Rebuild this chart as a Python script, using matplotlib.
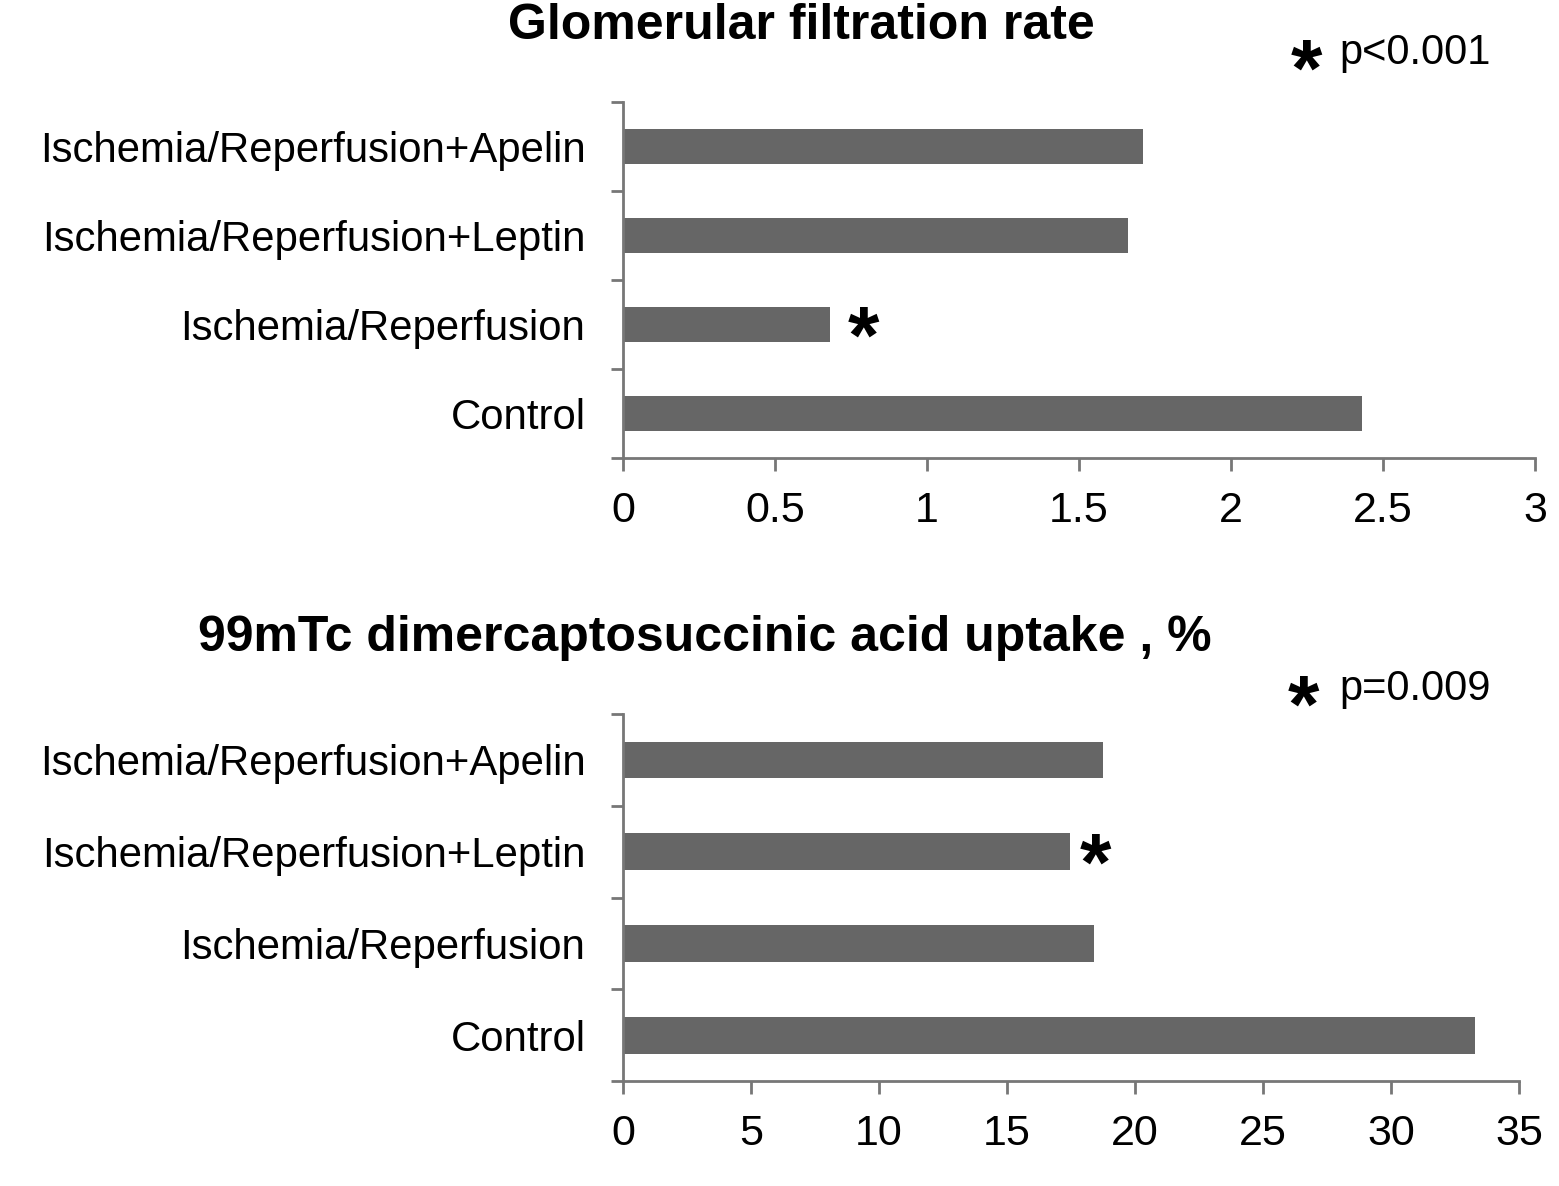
import matplotlib as mpl
mpl.use('Agg')
import matplotlib.pyplot as plt

plt.rcParams['font.family'] = ['Liberation Sans', 'DejaVu Sans']

groups = ['Control', 'Ischemia/Reperfusion', 'Ischemia/Reperfusion+Leptin',
          'Ischemia/Reperfusion+Apelin']
gfr = [2.43, 0.68, 1.66, 1.71]
dmsa = [33.3, 18.4, 17.45, 18.75]

bar_color = '#666666'
spine_color = '#777777'


def setup(ax, values, xmax, step):
    pos = range(len(values))
    ax.barh(pos, values, height=0.4, color=bar_color)
    ax.set_ylim(-0.5, len(values) - 0.5)
    ax.set_xlim(0, xmax)
    ax.set_yticks(list(pos))
    ax.set_yticklabels(groups, fontsize=30.2)
    ax.tick_params(axis='y', which='major', length=0, pad=27)
    ax.set_yticks([i - 0.5 for i in range(len(values) + 1)], minor=True)
    ax.tick_params(axis='y', which='minor', length=9, width=2, color=spine_color)
    ticks = [i * step for i in range(int(round(xmax / step)) + 1)]
    ax.set_xticks(ticks)
    ax.set_xticklabels(['%g' % t for t in ticks], fontsize=31)
    ax.tick_params(axis='x', length=9, width=2, color=spine_color, pad=15)
    for s in ['top', 'right']:
        ax.spines[s].set_visible(False)
    for s in ['left', 'bottom']:
        ax.spines[s].set_color(spine_color)
        ax.spines[s].set_linewidth(2)


def star(ax, x, y):
    ax.annotate('*', (x, y), xytext=(0, -12), textcoords='offset points',
                fontsize=58, fontweight='bold', ha='left', va='center')


fig = plt.figure(figsize=(15.59, 11.86), dpi=100)
ax1 = fig.add_axes([0.3996, 0.6138, 0.585, 0.300])
ax2 = fig.add_axes([0.3996, 0.0885, 0.5747, 0.3094])

setup(ax1, gfr, 3, 0.5)
setup(ax2, dmsa, 35, 5)

fig.text(0.514, 0.978, 'Glomerular filtration rate', fontsize=36,
         fontweight='bold', ha='center', va='center')
fig.text(0.452, 0.462, '99mTc dimercaptosuccinic acid uptake , %', fontsize=36,
         fontweight='bold', ha='center', va='center')

# significance marks
star(ax1, gfr[1] + 0.06, 1)
star(ax2, dmsa[2] + 0.4, 2)

fig.text(0.838, 0.937, '*', fontsize=58, fontweight='bold', ha='center', va='center')
fig.text(0.859, 0.955, 'p<0.001', fontsize=30, ha='left', va='center')
fig.text(0.836, 0.401, '*', fontsize=58, fontweight='bold', ha='center', va='center')
fig.text(0.859, 0.419, 'p=0.009', fontsize=30, ha='left', va='center')

fig.savefig('out.png', dpi=100)
